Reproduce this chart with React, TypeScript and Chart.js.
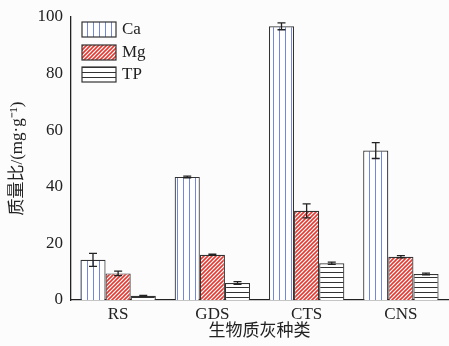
import React, { useEffect, useRef } from "react";
import { Chart, registerables } from "chart.js";
Chart.register(...registerables);

const categories = ["RS", "GDS", "CTS", "CNS"];
const caValues = [14.2, 43.5, 96.7, 52.8];
const caErrors = [2.3, 0.3, 1.2, 2.8];
const mgValues = [9.4, 16.0, 31.5, 15.3];
const mgErrors = [0.8, 0.2, 2.5, 0.4];
const tpValues = [1.5, 6.0, 13.0, 9.2];
const tpErrors = [0.1, 0.5, 0.4, 0.3];
const seriesNames = ["Ca", "Mg", "TP"];
const yTicks = [0, 20, 40, 60, 80, 100];

const SERIF = '"Liberation Serif", "DejaVu Serif", serif';
const CJK = '"Liberation Serif", "Noto Sans CJK SC", serif';

function makePattern(kind: string): CanvasPattern | string {
  const c = document.createElement("canvas");
  const ctx = c.getContext("2d")!;
  if (kind === "ca") {
    c.width = 6; c.height = 6;
    ctx.fillStyle = "#ffffff"; ctx.fillRect(0, 0, 6, 6);
    ctx.fillStyle = "#7388dc"; ctx.fillRect(3, 0, 1, 6);
  } else if (kind === "mg") {
    c.width = 4; c.height = 4;
    ctx.fillStyle = "#ffffff"; ctx.fillRect(0, 0, 4, 4);
    ctx.strokeStyle = "#e23a33"; ctx.lineWidth = 1.6;
    ctx.beginPath();
    ctx.moveTo(-1, 5); ctx.lineTo(5, -1);
    ctx.moveTo(-1, 1); ctx.lineTo(1, -1);
    ctx.moveTo(3, 5); ctx.lineTo(5, 3);
    ctx.stroke();
  } else {
    c.width = 5; c.height = 5;
    ctx.fillStyle = "#ffffff"; ctx.fillRect(0, 0, 5, 5);
    ctx.fillStyle = "#333333"; ctx.fillRect(0, 2, 5, 1);
  }
  return ctx.createPattern(c, "repeat")!;
}

export default function App() {
  const ref = useRef<HTMLCanvasElement>(null);
  useEffect(() => {
    const pats = [makePattern("ca"), makePattern("mg"), makePattern("tp")];
    const errs = [caErrors, mgErrors, tpErrors];
    const errorPlugin = {
      id: "errbars",
      afterDatasetsDraw(chart: any) {
        const ctx = chart.ctx;
        const y = chart.scales.y;
        ctx.save();
        ctx.strokeStyle = "#222";
        ctx.lineWidth = 1.3;
        chart.data.datasets.forEach((ds: any, i: number) => {
          const meta = chart.getDatasetMeta(i);
          meta.data.forEach((el: any, j: number) => {
            const v = ds.data[j];
            const e = errs[i][j];
            const yt = y.getPixelForValue(v + e);
            const yb = y.getPixelForValue(v - e);
            ctx.beginPath();
            ctx.moveTo(el.x, yt); ctx.lineTo(el.x, yb);
            ctx.moveTo(el.x - 4, yt); ctx.lineTo(el.x + 4, yt);
            ctx.moveTo(el.x - 4, yb); ctx.lineTo(el.x + 4, yb);
            ctx.stroke();
          });
        });
        ctx.restore();
      },
      afterDraw(chart: any) {
        const ctx = chart.ctx;
        const a = chart.chartArea;
        ctx.save();
        const bx = a.left + 11;
        const tops = [a.top + 5, a.top + 28, a.top + 50];
        seriesNames.forEach((n, i) => {
          ctx.fillStyle = pats[i];
          ctx.fillRect(bx, tops[i], 34, 15);
          ctx.strokeStyle = "#333";
          ctx.lineWidth = 1.2;
          ctx.strokeRect(bx, tops[i], 34, 15);
          ctx.fillStyle = "#222";
          ctx.font = `17px ${SERIF}`;
          ctx.textBaseline = "middle";
          ctx.textAlign = "left";
          ctx.fillText(n, bx + 40, tops[i] + 8);
        });
        ctx.restore();
      },
    };
    const chart = new Chart(ref.current!, {
      type: "bar",
      data: {
        labels: categories,
        datasets: [caValues, mgValues, tpValues].map((d, i) => ({
          label: seriesNames[i],
          data: d,
          backgroundColor: pats[i] as any,
          borderColor: "#333",
          borderWidth: 1.2,
          categoryPercentage: 0.8,
          barPercentage: 1.0,
        })),
      },
      options: {
        animation: false,
        responsive: false,
        layout: { padding: { top: 17, right: 1, left: 0, bottom: 0 } },
        plugins: { legend: { display: false }, tooltip: { enabled: false } },
        scales: {
          x: {
            grid: { display: false, drawTicks: false },
            border: { color: "#222", width: 1.3 },
            ticks: { color: "#222", font: { family: SERIF, size: 17 }, padding: 4 },
            title: { display: true, text: "生物质灰种类", color: "#222", font: { family: CJK, size: 17 }, padding: { top: 1 } },
            afterFit: (s: any) => { s.height = 46; },
          },
          y: {
            min: 0, max: 100,
            afterBuildTicks: (s: any) => { s.ticks = yTicks.map((v) => ({ value: v })); },
            grid: { display: false, drawTicks: true, tickLength: 5, color: "#222" },
            border: { color: "#222", width: 1.3 },
            ticks: { color: "#222", font: { family: SERIF, size: 17 }, padding: 3 },
            title: { display: true, text: "质量比/(mg·g⁻¹)", color: "#222", font: { family: CJK, size: 17 }, padding: { top: 7, bottom: 2 } },
            afterFit: (s: any) => { s.width = 71; },
          },
        },
      },
      plugins: [errorPlugin],
    });
    return () => chart.destroy();
  }, []);
  return (
    <div style={{ position: "absolute", left: 0, top: 0, width: 449, height: 346, background: "#fcfcfc" }}>
      <canvas ref={ref} width={449} height={346} style={{ width: 449, height: 346 }} />
    </div>
  );
}
